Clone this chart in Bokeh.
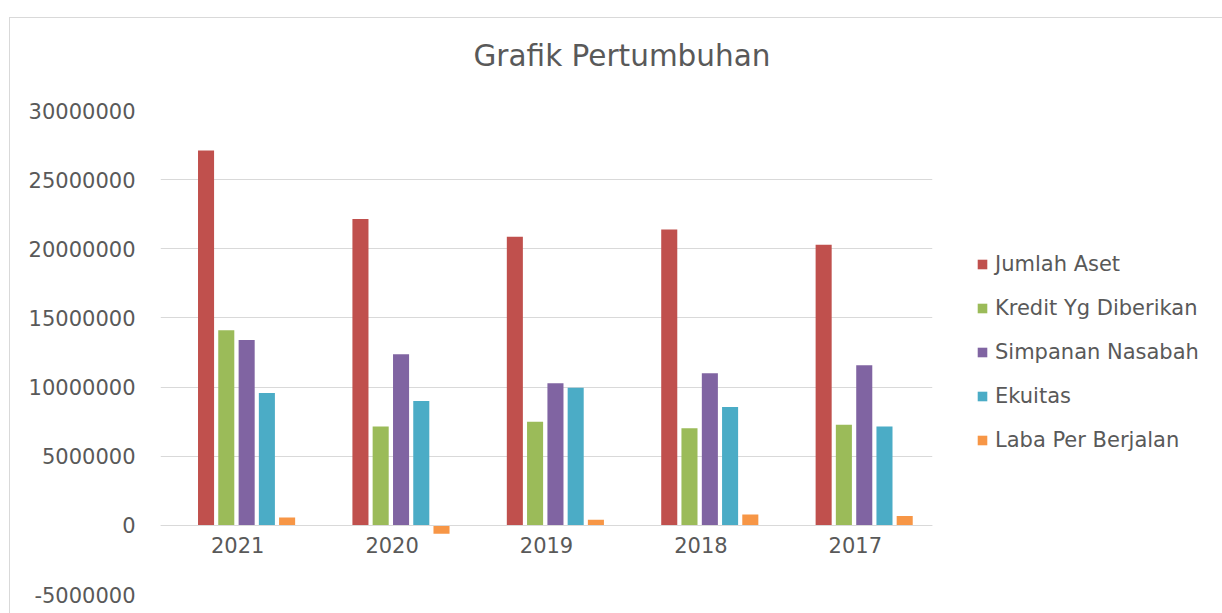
from bokeh.plotting import figure
from bokeh.models import FactorRange, Range1d, FixedTicker, NumeralTickFormatter, ColumnDataSource, Title
from bokeh.transform import dodge
from bokeh.embed import file_html
from bokeh.resources import INLINE

years = ["2021", "2020", "2019", "2018", "2017"]
series_names = ["Jumlah Aset", "Kredit Yg Diberikan", "Simpanan Nasabah", "Ekuitas", "Laba Per Berjalan"]
jumlah_aset = [27100000, 22150000, 20870000, 21400000, 20300000]
kredit = [14100000, 7150000, 7500000, 7030000, 7270000]
simpanan = [13400000, 12370000, 10270000, 11000000, 11570000]
ekuitas = [9570000, 9000000, 9950000, 8550000, 7150000]
laba = [560000, -600000, 410000, 780000, 670000]
y_ticks = [-5000000, 0, 5000000, 10000000, 15000000, 20000000, 25000000, 30000000]
chart_title = "Grafik Pertumbuhan"

colors = ["#C0504D", "#9BBB59", "#8064A2", "#4BACC6", "#F79646"]
offsets = [-0.205, -0.074, 0.058, 0.189, 0.320]
FONT = "DejaVu Sans"
GREY = "#595959"

source = ColumnDataSource(dict(year=years, s0=jumlah_aset, s1=kredit, s2=simpanan, s3=ekuitas, s4=laba))

p = figure(
    x_range=FactorRange(*years, range_padding=0),
    y_range=Range1d(-5000000, 30000000),
    frame_width=772, frame_height=484,
    min_border_left=150, min_border_right=290, min_border_top=92, min_border_bottom=19,
    output_backend="svg", toolbar_location=None,
)
p.title = None
p.margin = (17, 0, 0, 9)
p.styles = {"border-top": "1px solid #d9d9d9", "border-left": "1px solid #d9d9d9"}

# spacer (closest to the frame) then the real title above it
p.add_layout(Title(text=" ", text_font_size="1px", standoff=35), "above")
p.add_layout(Title(text=chart_title, align="left", offset=313, standoff=0,
                   text_font=FONT, text_font_size="29.5px", text_font_style="normal",
                   text_color=GREY), "above")

for i, name in enumerate(series_names):
    p.vbar(x=dodge("year", offsets[i], range=p.x_range), top="s%d" % i, width=0.104,
           source=source, fill_color=colors[i], line_color=None, legend_label=name)

p.outline_line_color = None
p.background_fill_color = "white"
p.border_fill_color = "white"

p.xgrid.visible = False
p.ygrid.grid_line_color = "#d9d9d9"
p.ygrid.grid_line_width = 1

p.yaxis.ticker = FixedTicker(ticks=y_ticks)
p.yaxis.formatter = NumeralTickFormatter(format="0")
p.yaxis.axis_line_color = None
p.yaxis.major_tick_line_color = None
p.yaxis.minor_tick_line_color = None
p.yaxis.major_label_standoff = 19
p.yaxis.major_label_text_font = FONT
p.yaxis.major_label_text_font_size = "21px"
p.yaxis.major_label_text_color = GREY

p.xaxis.fixed_location = 0
p.xaxis.axis_line_color = "#d9d9d9"
p.xaxis.major_tick_line_color = None
p.xaxis.minor_tick_line_color = None
p.xaxis.major_label_standoff = 6
p.xaxis.major_label_text_font = FONT
p.xaxis.major_label_text_font_size = "21px"
p.xaxis.major_label_text_color = GREY

lg = p.legend[0]
p.add_layout(lg, "right")
lg.location = (44, 142)
lg.margin = 0
lg.padding = 0
lg.border_line_color = None
lg.background_fill_alpha = 0
lg.glyph_width = 12
lg.glyph_height = 12
lg.label_height = 24
lg.spacing = 20
lg.label_standoff = 7
lg.label_text_font = FONT
lg.label_text_font_size = "21px"
lg.label_text_color = GREY

open("out.html", "w").write(file_html(p, INLINE))
